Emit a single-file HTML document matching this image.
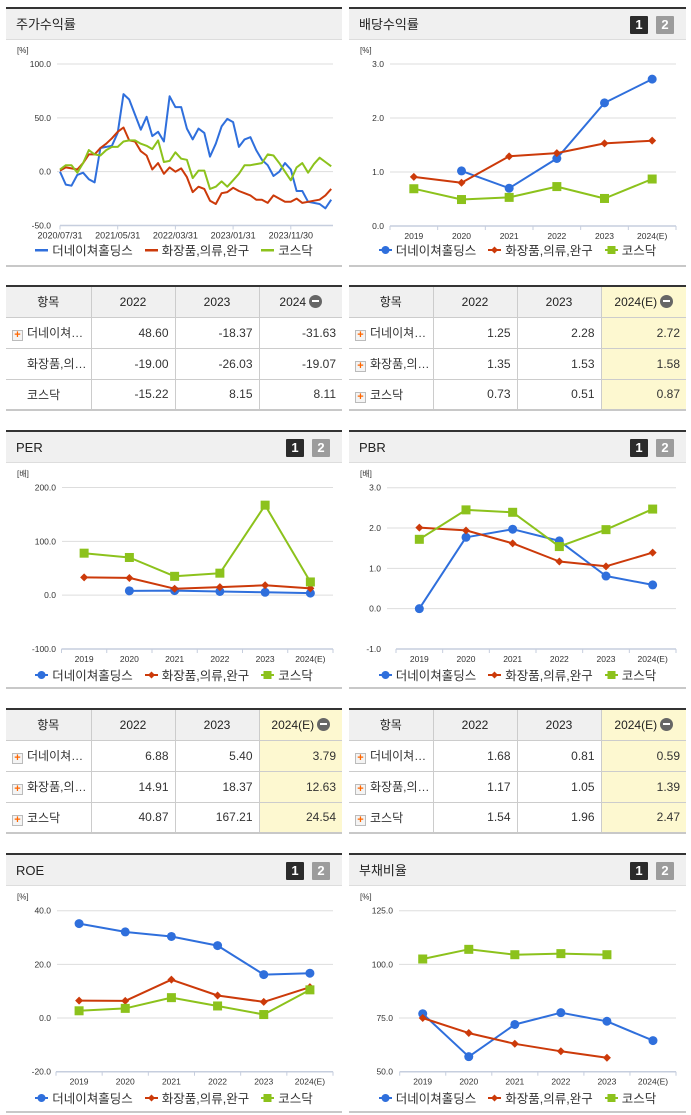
<!DOCTYPE html>
<html><head><meta charset="utf-8">
<style>
*{margin:0;padding:0;box-sizing:border-box}
body{width:691px;height:1115px;background:#fff;position:relative;overflow:hidden;font-family:"Liberation Sans","Noto Sans CJK KR",sans-serif;color:#222}
.panel{position:absolute;border-top:2px solid #333;border-bottom:2px solid #c8c8c8}
.hdr{height:31px;background:#f0f0f0;border-bottom:1px solid #ddd;font-size:13px;line-height:31px;padding-left:10px;position:relative}
.b1,.b2{position:absolute;top:7px;width:18px;height:18px;color:#fff;font-size:13px;font-weight:bold;line-height:18px;text-align:center;border-radius:1px}
.b1{background:#2b2b2b;right:38px}.b2{background:#9c9c9c;right:12px}
.legend{position:absolute;left:0;right:0;display:flex;justify-content:center;gap:12px;font-size:12.5px;color:#333;white-space:nowrap}
.li{display:flex;align-items:center;gap:4px}
table{position:absolute;border-collapse:collapse;table-layout:fixed;border-top:2px solid #333;border-bottom:2px solid #c8c8c8;font-size:12px}
tr{height:31px}
td,th{border-left:1px solid #ccc;border-right:1px solid #ccc;border-bottom:1px solid #ccc;height:31px;font-weight:normal;white-space:nowrap;overflow:hidden}
th{background:#f0f0f0;text-align:center}
td{text-align:right;padding-right:6px;color:#333}
td.n{text-align:left;padding-left:6px}
tr>*:first-child{border-left:none}tr>*:last-child{border-right:none}
.y{background:#fdf8d0}
.pl{display:inline-block;width:11px;height:11px;border:1px solid #bbb;background:#f4f4f4;color:#f60;font-size:11px;line-height:9px;text-align:center;font-weight:bold;vertical-align:-1px;margin-right:4px}
.mi{display:inline-block;width:13px;height:13px;border-radius:50%;background:#666;position:relative;vertical-align:-2px;margin-left:3px}
.mi:after{content:"";position:absolute;left:3px;top:5.5px;width:7px;height:2px;background:#fff}
</style></head><body>

<div class="panel" style="left:6px;top:7px;width:336px;height:260px"><div class="hdr">주가수익률</div></div>
<div class="panel" style="left:349px;top:7px;width:337px;height:260px"><div class="hdr">배당수익률<span class="b1">1</span><span class="b2">2</span></div></div>
<div class="panel" style="left:6px;top:430px;width:336px;height:259px"><div class="hdr">PER<span class="b1">1</span><span class="b2">2</span></div></div>
<div class="panel" style="left:349px;top:430px;width:337px;height:259px"><div class="hdr">PBR<span class="b1">1</span><span class="b2">2</span></div></div>
<div class="panel" style="left:6px;top:853px;width:336px;height:260px"><div class="hdr">ROE<span class="b1">1</span><span class="b2">2</span></div></div>
<div class="panel" style="left:349px;top:853px;width:337px;height:260px"><div class="hdr">부채비율<span class="b1">1</span><span class="b2">2</span></div></div>

<table style="left:6px;top:285px;width:336px">
<colgroup><col style="width:85px"><col style="width:84px"><col style="width:84px"><col></colgroup>
<tr><th>항목</th><th>2022</th><th>2023</th><th>2024<span class="mi"></span></th></tr>
<tr><td class="n"><span class="pl">+</span>더네이쳐…</td><td>48.60</td><td>-18.37</td><td>-31.63</td></tr>
<tr><td class="n" style="padding-left:21px">화장품,의…</td><td>-19.00</td><td>-26.03</td><td>-19.07</td></tr>
<tr><td class="n" style="padding-left:21px">코스닥</td><td>-15.22</td><td>8.15</td><td>8.11</td></tr>
</table>
<table style="left:349px;top:285px;width:337px">
<colgroup><col style="width:84px"><col style="width:84px"><col style="width:84px"><col></colgroup>
<tr><th>항목</th><th>2022</th><th>2023</th><th class="y">2024(E)<span class="mi"></span></th></tr>
<tr><td class="n"><span class="pl">+</span>더네이쳐…</td><td>1.25</td><td>2.28</td><td class="y">2.72</td></tr>
<tr><td class="n"><span class="pl">+</span>화장품,의…</td><td>1.35</td><td>1.53</td><td class="y">1.58</td></tr>
<tr><td class="n"><span class="pl">+</span>코스닥</td><td>0.73</td><td>0.51</td><td class="y">0.87</td></tr>
</table>
<table style="left:6px;top:708px;width:336px">
<colgroup><col style="width:85px"><col style="width:84px"><col style="width:84px"><col></colgroup>
<tr><th>항목</th><th>2022</th><th>2023</th><th class="y">2024(E)<span class="mi"></span></th></tr>
<tr><td class="n"><span class="pl">+</span>더네이쳐…</td><td>6.88</td><td>5.40</td><td class="y">3.79</td></tr>
<tr><td class="n"><span class="pl">+</span>화장품,의…</td><td>14.91</td><td>18.37</td><td class="y">12.63</td></tr>
<tr><td class="n"><span class="pl">+</span>코스닥</td><td>40.87</td><td>167.21</td><td class="y">24.54</td></tr>
</table>
<table style="left:349px;top:708px;width:337px">
<colgroup><col style="width:84px"><col style="width:84px"><col style="width:84px"><col></colgroup>
<tr><th>항목</th><th>2022</th><th>2023</th><th class="y">2024(E)<span class="mi"></span></th></tr>
<tr><td class="n"><span class="pl">+</span>더네이쳐…</td><td>1.68</td><td>0.81</td><td class="y">0.59</td></tr>
<tr><td class="n"><span class="pl">+</span>화장품,의…</td><td>1.17</td><td>1.05</td><td class="y">1.39</td></tr>
<tr><td class="n"><span class="pl">+</span>코스닥</td><td>1.54</td><td>1.96</td><td class="y">2.47</td></tr>
</table>

<svg id="cv" width="691" height="1115" style="position:absolute;left:0;top:0" xmlns="http://www.w3.org/2000/svg"></svg>

<script>
const stockBlue=[0,-12,-13,-3,-1,-7,-10,22,23,24,36,72,67,53,39,51,33,37,28,70,60,60,40,30,40,36,14,26,42,49,46,23,30,32,20,11,6,-4,0,8,2,-18,-18,-28,-29,-30,-34,-26];
const stockRed=[1,4,3,2,8,16,16,22,26,31,37,41,29,28,19,15,2,8,-2,4,0,3,-5,-19,-14,-16,-27,-30,-20,-19,-15,-18,-20,-22,-26,-26,-29,-22,-25,-28,-28,-25,-29,-28,-27,-26,-22,-16];
const stockGreen=[2,6,6,-1,8,20,16,15,20,23,23,28,29,29,26,24,21,29,9,10,18,12,11,-6,1,1,-16,-14,-9,-14,-8,-2,6,6,7,8,16,15,8,0,-8,4,8,-1,7,13,9,5];
const stockTickIdx=[0,10,20,30,40];
const stockTickLabels=["2020/07/31","2021/05/31","2022/03/31","2023/01/31","2023/11/30"];
const years=["2019","2020","2021","2022","2023","2024(E)"];
const divBlue=[null,1.02,0.70,1.25,2.28,2.72];
const divRed=[0.91,0.80,1.29,1.35,1.53,1.58];
const divGreen=[0.69,0.49,0.53,0.73,0.51,0.87];
const perBlue=[null,8.0,8.5,6.88,5.40,3.79];
const perRed=[33,32,12,14.91,18.37,12.63];
const perGreen=[78,70,35,40.87,167.21,24.54];
const pbrBlue=[0.0,1.77,1.97,1.68,0.81,0.59];
const pbrRed=[2.01,1.94,1.62,1.17,1.05,1.39];
const pbrGreen=[1.72,2.45,2.39,1.54,1.96,2.47];
const roeBlue=[35.2,32.1,30.4,27.0,16.2,16.7];
const roeRed=[6.5,6.4,14.3,8.4,6.0,11.5];
const roeGreen=[2.7,3.6,7.6,4.5,1.3,10.5];
const debtBlue=[77,57,72,77.5,73.5,64.5];
const debtRed=[75,68,63,59.5,56.5,null];
const debtGreen=[102.5,107,104.5,105,104.5,null];

const NS="http://www.w3.org/2000/svg";
const cv=document.getElementById('cv');
const C={b:"#2f6fdc",r:"#cc3a0a",g:"#8cc21c"};
function mk(t,a,p){const e=document.createElementNS(NS,t);for(const k in a)e.setAttribute(k,a[k]);(p||cv).appendChild(e);return e;}
function fmt(v){return v.toFixed(1);}

function chart(o){
  const g=mk('g',{});
  
  
  const n=o.n;
  const band=(o.x1-o.x0)/n;
  const X=i=>o.cat?o.x0+band*(i+0.5):o.x0+i*o.step;
  const Y=v=>o.yt+(o.vmax-v)/(o.vmax-o.vmin)*(o.yb-o.yt);
  const u=mk('text',{x:o.ux,y:o.yt-11,'font-size':8,fill:'#333'},g);u.textContent=o.unit;
  
  
  o.ticks.forEach(v=>{
    const yy=Y(v);
    if(v!==o.vmin){const l=mk('line',{x1:o.gx,x2:o.x1,y1:yy,y2:yy,stroke:'#ddd','stroke-width':1},g);
      
      }
    const t=mk('text',{x:o.gx-6,y:yy+3,'font-size':8.5,'text-anchor':'end',fill:'#333'},g);t.textContent=fmt(v);
    
    
  });
  const ax=mk('line',{x1:o.x0,x2:o.x1,y1:o.yb,y2:o.yb,stroke:'#c6cede','stroke-width':1.5},g);
  
  
  if(o.cat){
    for(let i=0;i<=n;i++){mk('line',{x1:o.x0+band*i,x2:o.x0+band*i,y1:o.yb,y2:o.yb+4,stroke:'#c6cede'},g);}
    o.labels.forEach((s,i)=>{const t=mk('text',{x:X(i),y:o.yb+13,'font-size':8.5,'text-anchor':'middle',fill:'#333'},g);t.textContent=s;
      
      });
  } else {
    o.tickIdx.forEach((ix,k)=>{mk('line',{x1:X(ix),x2:X(ix),y1:o.yb,y2:o.yb+4,stroke:'#c6cede'},g);
      const t=mk('text',{x:X(ix),y:o.yb+13,'font-size':9,'text-anchor':'middle',fill:'#333'},g);t.textContent=o.tickLabels[k];
      
      });
  }
  o.series.forEach(s=>{
    let d='';let pen=false;
    s.data.forEach((v,i)=>{if(v===null){pen=false;return;}d+=(pen?'L':'M')+X(i).toFixed(1)+' '+Y(v).toFixed(1);pen=true;});
    const p=mk('path',{d:d,fill:'none',stroke:s.c,'stroke-width':2,'stroke-linejoin':'round'},g);
    
    
    if(o.cat)s.data.forEach((v,i)=>{if(v===null)return;const x=X(i),y=Y(v);let m;
      if(s.m==='c')m=mk('circle',{cx:x,cy:y,r:4.5,fill:s.c},g);
      else if(s.m==='d')m=mk('path',{d:`M${x} ${y-4}L${x+4} ${y}L${x} ${y+4}L${x-4} ${y}Z`,fill:s.c},g);
      else m=mk('rect',{x:x-4.5,y:y-4.5,width:9,height:9,fill:s.c},g);
      
      });
  });
}
function ser(b,r,gg){return [{name:'the-nature-holdings',data:b,c:C.b,m:'c'},{name:'cosmetics-industry',data:r,c:C.r,m:'d'},{name:'kosdaq',data:gg,c:C.g,m:'s'}];}

chart({name:'stock-return-chart',cat:false,n:48,x0:60,step:5.77,x1:333,gx:57,yt:64,yb:225.5,vmax:100,vmin:-50,ticks:[100,50,0,-50],unit:'[%]',ux:17,tickIdx:stockTickIdx,tickLabels:stockTickLabels,series:ser(stockBlue,stockRed,stockGreen)});
chart({name:'dividend-chart',cat:true,n:6,x0:390,x1:676,gx:390,yt:64,yb:226,vmax:3,vmin:0,ticks:[3,2,1,0],unit:'[%]',ux:360,labels:years,series:ser(divBlue,divRed,divGreen)});
chart({name:'per-chart',cat:true,n:6,x0:61.5,x1:333,gx:62,yt:487.5,yb:649,vmax:200,vmin:-100,ticks:[200,100,0,-100],unit:'[배]',ux:17,labels:years,series:ser(perBlue,perRed,perGreen)});
chart({name:'pbr-chart',cat:true,n:6,x0:396,x1:676,gx:387,yt:487.7,yb:649,vmax:3,vmin:-1,ticks:[3,2,1,0,-1],unit:'[배]',ux:360,labels:years,series:ser(pbrBlue,pbrRed,pbrGreen)});
chart({name:'roe-chart',cat:true,n:6,x0:56,x1:333,gx:57,yt:910.7,yb:1071.7,vmax:40,vmin:-20,ticks:[40,20,0,-20],unit:'[%]',ux:17,labels:years,series:ser(roeBlue,roeRed,roeGreen)});
chart({name:'debt-ratio-chart',cat:true,n:6,x0:399.7,x1:676,gx:399,yt:910.7,yb:1071.7,vmax:125,vmin:50,ticks:[125,100,75,50],unit:'[%]',ux:360,labels:years,series:ser(debtBlue,debtRed,debtGreen)});

function legend(left,width,top,markers){
  const d=document.createElement('div');d.className='legend';
  
  
  d.style.left=left+'px';d.style.width=width+'px';d.style.top=top+'px';d.style.right='auto';
  const names=['더네이쳐홀딩스','화장품,의류,완구','코스닥'];const cols=[C.b,C.r,C.g];const ms=['c','d','s'];
  names.forEach((nm,i)=>{const it=document.createElement('div');it.className='li';
    
    
    let ic;
    if(!markers)ic=`<svg width="13" height="8"><rect x="0" y="3" width="13" height="2.5" fill="${cols[i]}"/></svg>`;
    else{let m=ms[i]==='c'?`<circle cx="6.5" cy="5" r="4" fill="${cols[i]}"/>`:ms[i]==='d'?`<path d="M6.5 1.5L10 5L6.5 8.5L3 5Z" fill="${cols[i]}"/>`:`<rect x="2.5" y="1" width="8" height="8" fill="${cols[i]}"/>`;
      ic=`<svg width="13" height="10"><rect x="0" y="4" width="13" height="2" fill="${cols[i]}"/>${m}</svg>`;}
    it.innerHTML=ic+'<span>'+nm+'</span>';d.appendChild(it);});
  document.body.appendChild(d);
}
legend(6,336,240,false);legend(349,337,240,true);
legend(6,336,665,true);legend(349,337,665,true);
legend(6,336,1088,true);legend(349,337,1088,true);
</script>
</body></html>
